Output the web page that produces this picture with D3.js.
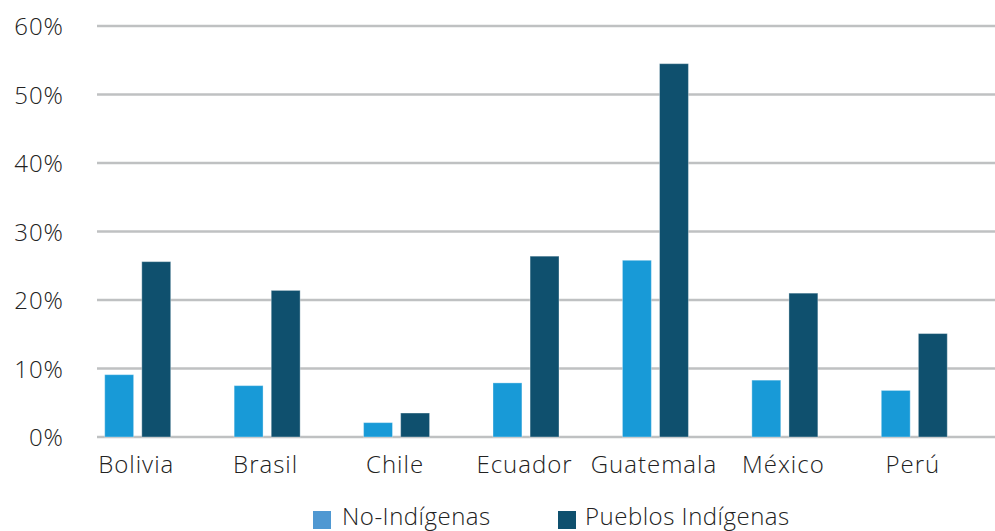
<!DOCTYPE html>
<html><head><meta charset="utf-8">
<script src="https://cdn.jsdelivr.net/npm/d3@7"></script>
<style>body{margin:0;background:#fff;}svg{display:block;}</style>
</head><body><svg id="c" width="995" height="531"></svg>
<script>
const categories = ["Bolivia","Brasil","Chile","Ecuador","Guatemala","México","Perú"];
const noIndigenas = [9.1, 7.5, 2.1, 7.9, 25.8, 8.3, 6.8];
const pueblosIndigenas = [25.6, 21.4, 3.5, 26.4, 54.5, 21.0, 15.1];
const yTicks = [0,10,20,30,40,50,60];
const seriesNames = ["No-Indígenas","Pueblos Indígenas"];
const barColors = ["#189ad7","#0f506e"];
const legendColors = ["#4f98d2","#0f506e"];
const FONT = "'Open Sans', sans-serif";

const svg = d3.select("#c");
const y = d3.scaleLinear().domain([0,60]).range([437,26]);
const x = d3.scaleBand().domain(categories).range([73,979]);
const inner = d3.scaleBand().domain([0,1]).range([-33,33]).paddingInner(0.22);

svg.append("g").selectAll("line").data(yTicks).join("line")
  .attr("x1",97).attr("x2",995)
  .attr("y1",d=>y(d)).attr("y2",d=>y(d))
  .attr("stroke","#bfc1c2").attr("stroke-width",2.5);

function styleText(sel, ls){
  sel.attr("font-size",24).attr("fill","#222").attr("font-family",FONT)
     .attr("font-weight",300).attr("letter-spacing",(ls==null?1:ls)+"px");
}

const yAxis = d3.axisLeft(y).tickValues(yTicks).tickFormat(d=>d+"%").tickSize(0).tickPadding(0);
const ya = svg.append("g").attr("transform","translate(64,0)").call(yAxis);
ya.select(".domain").remove();
ya.selectAll("text").call(styleText).attr("dy","0.36em");

const series = [noIndigenas, pueblosIndigenas];
series.forEach((vals,si)=>{
  svg.append("g").selectAll("rect").data(categories).join("rect")
    .attr("x",(c)=>x(c)+x.bandwidth()/2+inner(si))
    .attr("width",inner.bandwidth())
    .attr("y",(c,i)=>y(vals[i]))
    .attr("height",(c,i)=>y(0)-y(vals[i]))
    .attr("fill",barColors[si])
    .attr("stroke","rgba(255,255,255,0.35)").attr("stroke-width",1);
});

const xAxis = d3.axisBottom(x).tickSize(0).tickPadding(0);
const xa = svg.append("g").attr("transform","translate(-1.5,473)").call(xAxis);
xa.select(".domain").remove();
xa.selectAll("text").call(styleText).attr("dy",0);

const lx = [313, 558], tx = [342, 585];
seriesNames.forEach((n,i)=>{
  svg.append("rect").attr("x",lx[i]).attr("y",511).attr("width",18).attr("height",18).attr("fill",legendColors[i]);
  svg.append("text").attr("x",tx[i]).attr("y",525).call(styleText,0.5).text(n);
});
</script></body></html>
